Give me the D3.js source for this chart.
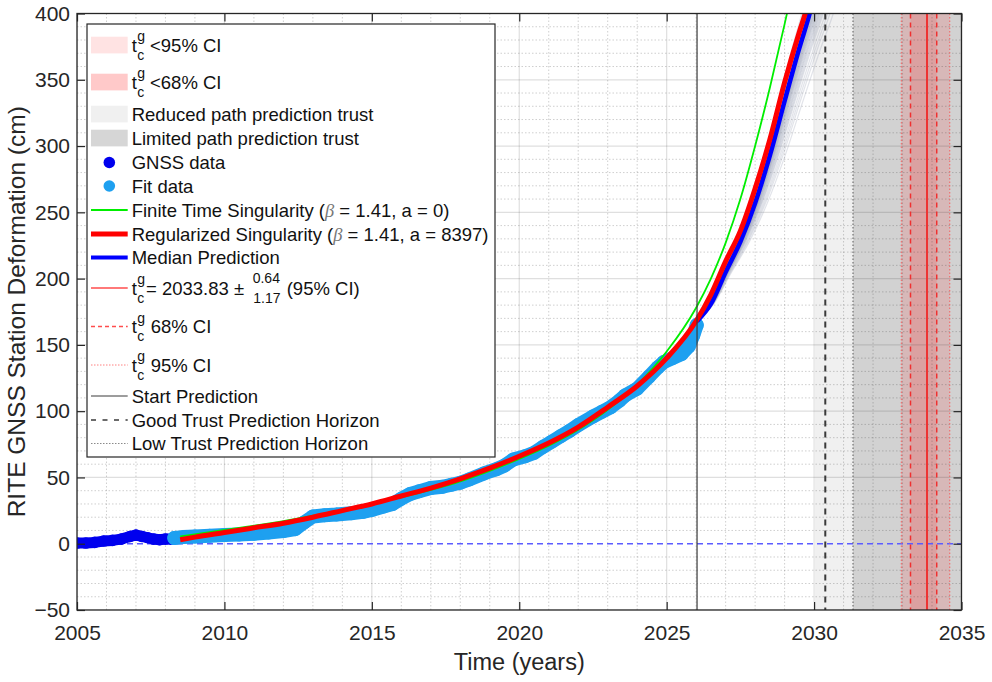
<!DOCTYPE html>
<html>
<head>
<meta charset="utf-8">
<script src="https://cdn.jsdelivr.net/npm/d3@7"></script>
<style>
  body { margin: 0; background: #fff; }
  svg { font-family: "Liberation Sans", Arial, Helvetica, sans-serif; }
</style>
</head>
<body>
<svg id="chart" width="992" height="682"></svg>
<script>
// ---- data ----
const xTicks = [2005, 2010, 2015, 2020, 2025, 2030, 2035];
const yTicks = [-50, 0, 50, 100, 150, 200, 250, 300, 350, 400];

const gnssData = [
  [2005.0, 0.5], [2005.3, 0.5], [2005.6, 1], [2005.9, 2], [2006.2, 2.5], [2006.5, 3.5],
  [2006.8, 5.5], [2007.0, 6.5], [2007.2, 5.5], [2007.4, 4.5], [2007.6, 3.5], [2007.8, 3],
  [2008.0, 3.5], [2008.2, 3.5], [2008.35, 4]
];

const fitData = [
  [2008.3, 4.3], [2008.6, 5], [2009.0, 5.5], [2009.5, 6], [2010.0, 6.5], [2010.5, 7],
  [2011.0, 7.5], [2011.5, 8.5], [2012.0, 9.5], [2012.4, 11], [2012.7, 16], [2013.0, 20.5],
  [2013.4, 21.5], [2013.8, 22], [2014.3, 23], [2014.7, 24], [2015.0, 25.5], [2015.4, 28],
  [2015.7, 30], [2016.0, 34], [2016.3, 37.5], [2016.6, 39.5], [2017.0, 42], [2017.4, 43],
  [2017.7, 44.5], [2018.0, 46], [2018.3, 48.5], [2018.8, 53], [2019.2, 56], [2019.5, 59],
  [2019.8, 63.5], [2020.2, 66], [2020.5, 68.5], [2020.8, 73], [2021.1, 77], [2021.4, 81],
  [2021.7, 85], [2022.0, 89.5], [2022.5, 96], [2022.8, 99.5], [2023.1, 103], [2023.4, 108],
  [2023.6, 112], [2024.0, 117], [2024.4, 126], [2024.7, 133], [2024.9, 137], [2025.2, 140],
  [2025.5, 143], [2025.75, 149], [2025.9, 157], [2026.02, 165]
];

const ftsCurve = [
  [2008.5, 5.5], [2010, 10.5], [2012, 17], [2014, 25.5], [2016, 35], [2018, 47], [2020, 64],
  [2021, 74], [2022, 86], [2023, 101], [2024, 120], [2025, 145], [2026, 178], [2026.5, 200],
  [2027, 227], [2027.5, 260], [2028, 300], [2028.5, 344], [2029, 392], [2029.2, 412]
];

const regCurve = [
  [2008.5, 3], [2009, 5], [2010, 8.5], [2011, 12], [2012, 15.5], [2013, 20], [2014, 25],
  [2015, 30], [2016, 36], [2017, 42], [2018, 49], [2019, 57], [2020, 66], [2021, 76],
  [2022, 88], [2023, 103], [2024, 119], [2025, 140], [2026, 168], [2026.5, 188], [2027, 213],
  [2027.5, 236], [2028, 268], [2028.5, 305], [2029, 348], [2029.5, 386], [2029.7, 400], [2029.9, 416]
];

const medianCurve = [
  [2026.03, 168], [2026.5, 181], [2027, 205], [2027.5, 228], [2028, 257], [2028.5, 293],
  [2029, 334], [2029.5, 374], [2029.85, 400], [2030, 413]
];

// time-stretch of each sampled path relative to the median, read from the spread of the grey fan
const ensembleStretch = [
  0.93, 0.94, 0.95, 0.955, 0.96, 0.965, 0.97, 0.975, 0.98, 0.985, 0.99, 0.993, 0.996, 1.0,
  1.003, 1.006, 1.01, 1.013, 1.016, 1.02, 1.024, 1.028, 1.032, 1.036, 1.04, 1.045, 1.05,
  1.055, 1.06, 1.067, 1.075, 1.083, 1.09, 1.1, 1.11, 1.12, 1.14, 1.16, 1.18, 1.21
];

const startPrediction = 2026.03;
const reducedTrustStart = 2030.03;
const goodTrustHorizon = 2030.38;
const lowTrustHorizon = 2031.32;
const tcValue = 2033.83;
const tc68 = [2033.27, 2034.16];
const tc95 = [2032.96, 2034.60];

// ---- layout ----
const svg = d3.select('#chart');
const pL = 77, pR = 961.5, pT = 13.5, pB = 610;
const ink = '#262626';

const x = d3.scaleLinear().domain([2005, 2035]).range([pL, pR]);
const y = d3.scaleLinear().domain([-50, 400]).range([pB, pT]);

svg.append('defs').append('clipPath').attr('id', 'plotClip')
  .append('rect').attr('x', pL).attr('y', pT).attr('width', pR - pL).attr('height', pB - pT);

const plot = svg.append('g').attr('clip-path', 'url(#plotClip)');

// shaded trust regions
plot.append('rect').attr('x', x(reducedTrustStart)).attr('y', pT)
  .attr('width', x(lowTrustHorizon) - x(reducedTrustStart)).attr('height', pB - pT).attr('fill', '#f0f0f0');
plot.append('rect').attr('x', x(lowTrustHorizon)).attr('y', pT)
  .attr('width', x(2035) - x(lowTrustHorizon)).attr('height', pB - pT).attr('fill', '#d2d2d2');
plot.append('rect').attr('x', x(tc95[0])).attr('y', pT)
  .attr('width', x(tc95[1]) - x(tc95[0])).attr('height', pB - pT).attr('fill', 'rgba(255,0,0,0.12)');
plot.append('rect').attr('x', x(tc68[0])).attr('y', pT)
  .attr('width', x(tc68[1]) - x(tc68[0])).attr('height', pB - pT).attr('fill', 'rgba(255,0,0,0.12)');

// grid
const minorX = d3.range(2005, 2036, 1).filter(v => v % 5 !== 0);
const minorY = d3.range(-50, 401, 10).filter(v => v % 50 !== 0);
plot.selectAll('.gxm').data(minorX).enter().append('line')
  .attr('x1', d => x(d)).attr('x2', d => x(d)).attr('y1', pT).attr('y2', pB)
  .attr('stroke', 'rgba(38,38,38,0.22)').attr('stroke-width', 1).attr('stroke-dasharray', '1.5,2');
plot.selectAll('.gym').data(minorY).enter().append('line')
  .attr('y1', d => y(d)).attr('y2', d => y(d)).attr('x1', pL).attr('x2', pR)
  .attr('stroke', 'rgba(38,38,38,0.22)').attr('stroke-width', 1).attr('stroke-dasharray', '1.5,2');
plot.selectAll('.gx').data(xTicks).enter().append('line')
  .attr('x1', d => x(d)).attr('x2', d => x(d)).attr('y1', pT).attr('y2', pB)
  .attr('stroke', 'rgba(38,38,38,0.15)').attr('stroke-width', 1.2);
plot.selectAll('.gy').data(yTicks.filter(v => v !== 0)).enter().append('line')
  .attr('y1', d => y(d)).attr('y2', d => y(d)).attr('x1', pL).attr('x2', pR)
  .attr('stroke', 'rgba(38,38,38,0.15)').attr('stroke-width', 1.2);

// zero line
plot.append('line').attr('x1', pL).attr('x2', pR).attr('y1', y(0)).attr('y2', y(0))
  .attr('stroke', '#5c5cff').attr('stroke-width', 1.4).attr('stroke-dasharray', '6,4');

const line = d3.line().x(d => x(d[0])).y(d => y(d[1]));
const smooth = d3.line().x(d => x(d[0])).y(d => y(d[1])).curve(d3.curveMonotoneX);

// ensemble of sampled paths
ensembleStretch.forEach(k => {
  const pts = medianCurve.map(([t, v]) => [startPrediction + (t - startPrediction) * k, v]);
  plot.append('path').attr('d', smooth(pts)).attr('fill', 'none')
    .attr('stroke', '#8a93aa').attr('stroke-opacity', 0.25).attr('stroke-width', 1.2);
});

// GNSS data
plot.append('path').attr('d', line(gnssData)).attr('fill', 'none').attr('stroke', '#0000ee')
  .attr('stroke-width', 11).attr('stroke-linejoin', 'round').attr('stroke-linecap', 'round');
plot.selectAll('.gnss').data(gnssData).enter().append('circle')
  .attr('cx', d => x(d[0])).attr('cy', d => y(d[1])).attr('r', 5.8).attr('fill', '#0000ee');

// fit data
plot.append('path').attr('d', line(fitData)).attr('fill', 'none').attr('stroke', '#1ea0f0')
  .attr('stroke-width', 14).attr('stroke-linejoin', 'round').attr('stroke-linecap', 'round');
plot.selectAll('.fit').data(fitData).enter().append('circle')
  .attr('cx', d => x(d[0])).attr('cy', d => y(d[1])).attr('r', 7).attr('fill', '#1ea0f0');

// model curves
plot.append('path').attr('d', smooth(ftsCurve)).attr('fill', 'none')
  .attr('stroke', '#00ee00').attr('stroke-width', 1.8);
plot.append('path').attr('d', smooth(medianCurve)).attr('fill', 'none')
  .attr('stroke', '#0000ff').attr('stroke-width', 4.6);
plot.append('path').attr('d', smooth(regCurve)).attr('fill', 'none')
  .attr('stroke', '#ff0000').attr('stroke-width', 5);

// vertical markers
const vline = (t, color, w, dash) => {
  const l = plot.append('line').attr('x1', x(t)).attr('x2', x(t)).attr('y1', pT).attr('y2', pB)
    .attr('stroke', color).attr('stroke-width', w);
  if (dash) l.attr('stroke-dasharray', dash);
};
vline(startPrediction, '#3a3a3a', 1.2);
vline(goodTrustHorizon, '#3a3a3a', 2, '6,5');
vline(lowTrustHorizon, '#5a5a5a', 1, '1.5,2');
tc95.forEach(t => vline(t, '#f07070', 1.2, '1.5,2'));
tc68.forEach(t => vline(t, '#f03030', 1.5, '5,4'));
vline(tcValue, '#ee3333', 2);

// axes
const ax = svg.append('g').attr('font-size', 21).attr('fill', ink);
const xAxis = ax.append('g').attr('transform', `translate(0,${pB})`)
  .call(d3.axisBottom(x).tickValues(xTicks).tickFormat(d3.format('d')).tickSize(-8).tickPadding(15));
const yAxis = ax.append('g').attr('transform', `translate(${pL},0)`)
  .call(d3.axisLeft(y).tickValues(yTicks).tickSize(-8).tickPadding(7));
const xTop = ax.append('g').attr('transform', `translate(0,${pT})`)
  .call(d3.axisTop(x).tickValues(xTicks).tickSize(-8).tickFormat(''));
const yRight = ax.append('g').attr('transform', `translate(${pR},0)`)
  .call(d3.axisRight(y).tickValues(yTicks).tickSize(-8).tickFormat(''));
[xAxis, yAxis, xTop, yRight].forEach(g => {
  g.select('.domain').remove();
  g.selectAll('line').attr('stroke', ink).attr('stroke-width', 1.2);
  g.selectAll('text').attr('fill', ink).attr('font-size', 21)
    .attr('font-family', '"Liberation Sans", Arial, sans-serif');
});
svg.append('rect').attr('x', pL).attr('y', pT).attr('width', pR - pL).attr('height', pB - pT)
  .attr('fill', 'none').attr('stroke', ink).attr('stroke-width', 1.3);

svg.append('text').attr('x', (pL + pR) / 2).attr('y', 670).attr('text-anchor', 'middle')
  .attr('font-size', 23.5).attr('fill', ink).text('Time (years)');
svg.append('text').attr('transform', `translate(25,${(pT + pB) / 2}) rotate(-90)`)
  .attr('text-anchor', 'middle').attr('font-size', 24.5).attr('fill', ink)
  .text('RITE GNSS Station Deformation (cm)');

// legend
const lg = svg.append('g').attr('font-size', 18.5).attr('fill', '#111');
lg.append('rect').attr('x', 87).attr('y', 24).attr('width', 408).attr('height', 433)
  .attr('fill', '#fff').attr('stroke', ink).attr('stroke-width', 1.2);

const sx0 = 91, sx1 = 127.7, tx = 131.7;
const tcg = (base) => {
  lg.append('text').attr('x', tx).attr('y', base).text('t');
  lg.append('text').attr('x', tx + 5.6).attr('y', base - 10.5).attr('font-size', 14).text('g');
  lg.append('text').attr('x', tx + 5.6).attr('y', base + 8.3).attr('font-size', 14).text('c');
};
const patch = (cy, fill) => lg.append('rect').attr('x', sx0).attr('y', cy - 8.3)
  .attr('width', sx1 - sx0).attr('height', 16.7).attr('fill', fill);
const sample = (cy, color, w, dash) => {
  const l = lg.append('line').attr('x1', sx0).attr('x2', sx1).attr('y1', cy).attr('y2', cy)
    .attr('stroke', color).attr('stroke-width', w);
  if (dash) l.attr('stroke-dasharray', dash);
};
const label = (cy, txt) => lg.append('text').attr('x', tx).attr('y', cy + 6.6).text(txt);
const betaLabel = (cy, head, tail) => {
  const t = lg.append('text').attr('x', tx).attr('y', cy + 6.6);
  t.append('tspan').text(head);
  t.append('tspan').attr('font-style', 'italic').attr('font-family', '"Liberation Serif", serif')
    .attr('fill', '#777').text('β');
  t.append('tspan').text(tail);
};

patch(45, 'rgba(255,0,0,0.11)'); tcg(51.6);
lg.append('text').attr('x', 150).attr('y', 51.6).text('<95% CI');
patch(82, 'rgba(255,0,0,0.21)'); tcg(88.6);
lg.append('text').attr('x', 150).attr('y', 88.6).text('<68% CI');
patch(114, '#f0f0f0'); label(114, 'Reduced path prediction trust');
patch(138, '#d6d6d6'); label(138, 'Limited path prediction trust');
lg.append('circle').attr('cx', 109.3).attr('cy', 162.5).attr('r', 5.8).attr('fill', '#0000ee');
label(162.5, 'GNSS data');
lg.append('circle').attr('cx', 109.3).attr('cy', 186).attr('r', 5.8).attr('fill', '#1ea0f0');
label(186, 'Fit data');

sample(210, '#00ee00', 1.8);
betaLabel(210, 'Finite Time Singularity (', ' = 1.41, a = 0)');
sample(234, '#ff0000', 5);
betaLabel(234, 'Regularized Singularity (', ' = 1.41, a = 8397)');
sample(257.5, '#0000ff', 4);
label(257.5, 'Median Prediction');

sample(288, '#ff4d4d', 1.5);
tcg(294.8);
lg.append('text').attr('x', 146).attr('y', 294.8).text('= 2033.83 ±');
lg.append('text').attr('x', 252.7).attr('y', 283.3).attr('font-size', 14).text('0.64');
lg.append('text').attr('x', 253.3).attr('y', 302.7).attr('font-size', 14).text('1.17');
lg.append('text').attr('x', 286.7).attr('y', 294.8).text('(95% CI)');

sample(326.5, '#ff4d4d', 1.3, '4,3');
tcg(333.1);
lg.append('text').attr('x', 150.7).attr('y', 333.1).text('68% CI');
sample(365, '#ff8080', 1, '1.5,1.5');
tcg(371.6);
lg.append('text').attr('x', 150.7).attr('y', 371.6).text('95% CI');

sample(396, '#3a3a3a', 1);
label(396, 'Start Prediction');
sample(420, '#3a3a3a', 1.6, '5,6.5');
label(420, 'Good Trust Prediction Horizon');
sample(443.5, '#8a8a8a', 1, '1.5,1.5');
label(443.5, 'Low Trust Prediction Horizon');
</script>
</body>
</html>
